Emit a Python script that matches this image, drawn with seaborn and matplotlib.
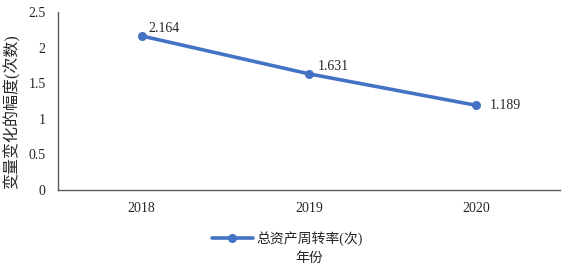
import pandas as pd
import seaborn as sns
import matplotlib.pyplot as plt

# 数据
years = ["2018", "2019", "2020"]
turnover = [2.164, 1.631, 1.189]
series_name = "总资产周转率(次)"

data = pd.DataFrame({"year": years, "value": turnover})

sns.set_style("white")
plt.rcParams['font.family'] = ['Liberation Serif', 'Noto Sans CJK SC']

fig = plt.figure(figsize=(5.66, 2.69), dpi=100)
ax = fig.add_axes([58 / 566, 1 - 190 / 269, (560 - 58) / 566, (190 - 12) / 269])

sns.lineplot(x='year', y='value', data=data, ax=ax, color="#4472C4", linewidth=2.6,
             marker='o', markersize=6.5, markeredgewidth=0, label=series_name, sort=False)

# 数据标签偏移
offsets = [(5, 5), (6, 5), (10, 0)]
for i, v in enumerate(turnover):
    ax.annotate(f"{v:.3f}", (i, v), xytext=offsets[i], textcoords='offset points',
                fontsize=10, ha='left', va='center')

ax.set_xlim(-0.5, 2.5)
ax.set_ylim(0, 2.5)
ax.set_yticks([0, 0.5, 1, 1.5, 2, 2.5])
ax.set_yticklabels(["0", "0.5", "1", "1.5", "2", "2.5"])
ax.tick_params(axis='both', labelsize=10, length=0)
ax.tick_params(axis='y', pad=9)
ax.tick_params(axis='x', pad=9)

for s in ['top', 'right']:
    ax.spines[s].set_visible(False)
for s in ['left', 'bottom']:
    ax.spines[s].set_color('#595959')
    ax.spines[s].set_linewidth(1.0)

ax.set_xlabel("年份", fontsize=10)
ax.xaxis.set_label_coords(0.5, -0.35)
ax.set_ylabel("变量变化的幅度(次数)", fontsize=11.5)
ax.yaxis.set_label_coords(-0.074, 0.44)

ax.legend(loc='upper center', bbox_to_anchor=(0.456, -0.19), frameon=False, fontsize=10,
          handlelength=3, handletextpad=0.2, borderpad=0)

fig.savefig('out.png', dpi=100)
plt.close()
